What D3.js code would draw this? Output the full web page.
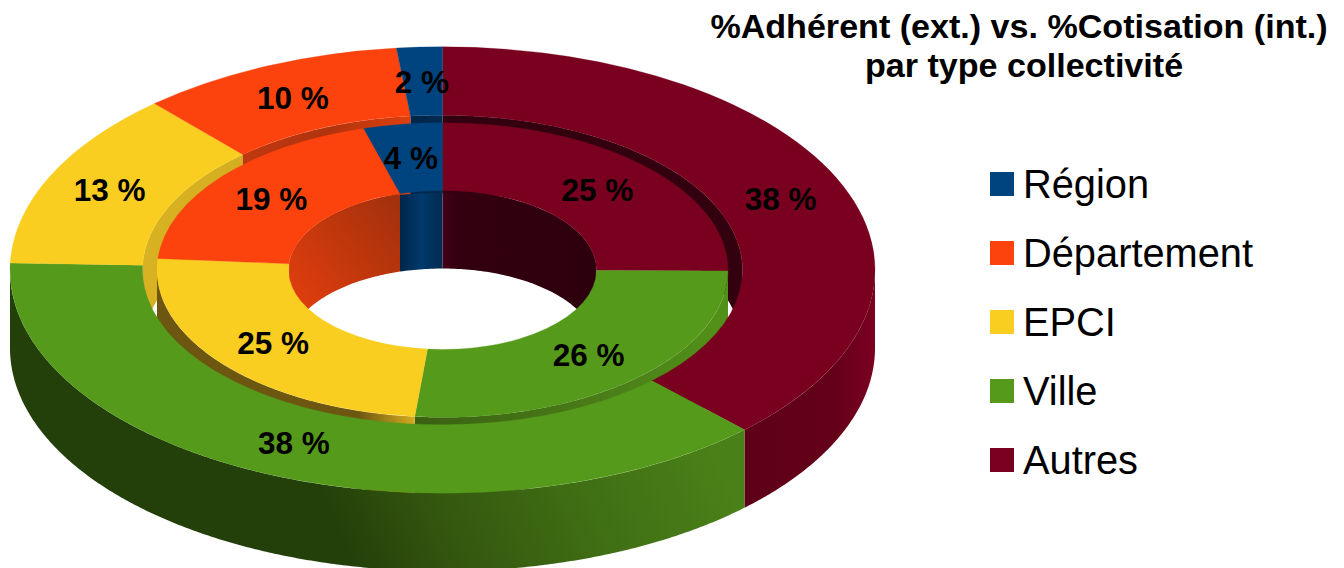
<!DOCTYPE html>
<html><head><meta charset="utf-8">
<script src="https://cdn.jsdelivr.net/npm/d3@7/dist/d3.min.js"></script>
<style>html,body{margin:0;padding:0;background:#fff}svg{display:block}text{font-family:"Liberation Sans",sans-serif}</style>
</head><body><svg id="c" width="1344" height="568"></svg>
<script>
// Data, in drawing order clockwise from 12 o'clock
const categories = ["Autres", "Ville", "EPCI", "Département", "Région"];
const outerValues = [37.7, 37.8, 12.9, 9.9, 1.7];
const innerValues = [25.1, 26.45, 24.7, 19.3, 4.45];
const legendOrder = ["Région", "Département", "EPCI", "Ville", "Autres"];
const titleLines = ["%Adhérent (ext.) vs. %Cotisation (int.)", "par type collectivité"];

// Styles
const colors = {"Région":"#00447f","Département":"#fc430e","EPCI":"#f9ce20","Ville":"#559a1b","Autres":"#7a0020"};
const outerWallStops = {
  "Ville":[[0,"#233f0a"],[.3,"#35590f"],[.65,"#406f14"],[1,"#4a8018"]],
  "Autres":[[0,"#5e0018"],[.7,"#650019"],[1,"#7a0020"]]
};
const gapBackStops = {
  "Autres":[[0,"#33000f"],[1,"#33000f"]],
  "Région":[[0,"#00264a"],[1,"#002b50"]],
  "Département":[[0,"#c0380f"],[.5,"#b0330d"],[1,"#dc400f"]],
  "EPCI":[[0,"#d8b222"],[1,"#d4ae20"]],
  "Ville":[[0,"#3b6010"],[1,"#3b6010"]]
};
const gapFrontStops = {
  "EPCI":[[0,"#6d5610"],[.78,"#6d5610"],[1,"#d4ac20"]],
  "Ville":[[0,"#3a6012"],[.6,"#4a7d18"],[1,"#529219"]],
  "Autres":[[0,"#5e0018"],[1,"#5e0018"]],
  "Département":[[0,"#a0300c"],[1,"#a0300c"]]
};
const holeStops = {
  "Autres":[[0,"#45001a"],[.1,"#33000f"],[1,"#2d000e"]],
  "Région":[[0,"#00264a"],[.5,"#003a6c"],[1,"#002b50"]],
  "Département":[[0,"#ec400d"],[1,"#a0300c"]],
  "EPCI":[[0,"#c9a01f"],[1,"#c9a01f"]]
};

// Geometry
const W = 1344, H = 568, cx = 442.5, cy = 270;
const tilt = 0.516, depth = 78;
const rOuter = 432.5, rOuterIn = 300, rInner = 285.5, rHole = 154;
const svg = d3.select("#c");
const defs = svg.append("defs");
const TAU = Math.PI * 2;

const pie = d3.pie().sort(null).value(d => d.v);
const mk = vals => pie(categories.map((c, i) => ({c, v: vals[i]})));
const outer = mk(outerValues), inner = mk(innerValues);

// angle -> projected position
const px = (r, a) => cx + r * Math.sin(a);
const py = (r, a) => cy - tilt * r * Math.cos(a);

let gid = 0;
function gradient(stops, diag, vec) {
  const id = "g" + (gid++);
  const g = defs.append("linearGradient").attr("id", id);
  if (vec) g.attr("gradientUnits", "userSpaceOnUse")
    .attr("x1", vec[0]).attr("y1", vec[1]).attr("x2", vec[2]).attr("y2", vec[3]);
  else g.attr("x1", 0).attr("x2", 1).attr("y1", diag ? 1 : 0).attr("y2", 0);
  stops.forEach(s => g.append("stop").attr("offset", s[0]).attr("stop-color", s[1]));
  return `url(#${id})`;
}
function wall(r, a0, a1, fill) {
  if (a1 <= a0) return;
  const n = Math.max(2, Math.ceil((a1 - a0) * r / 3));
  const angles = d3.range(n + 1).map(i => a0 + (a1 - a0) * i / n);
  const area = d3.area().x(a => px(r, a)).y0(a => py(r, a)).y1(a => py(r, a) + depth);
  svg.append("path").attr("d", area(angles)).attr("fill", fill);
}
function walls(slices, r, lo, hi, stopsMap, diagFor, vecs) {
  slices.forEach(s => {
    const a0 = Math.max(s.startAngle, lo), a1 = Math.min(s.endAngle, hi);
    if (a1 - a0 > 1e-4) {
      const st = stopsMap[s.data.c];
      if (st) wall(r, a0, a1, gradient(st, diagFor === s.data.c, vecs && vecs[s.data.c]));
    }
  });
}
// back of the central hole
walls(inner, rHole, 0, Math.PI / 2, holeStops);
walls(inner, rHole, Math.PI * 1.5, TAU, holeStops, "Département");
// back wall of the gap (inner side of the outer ring)
walls(outer, rOuterIn, 0, Math.PI / 2, gapBackStops);
walls(outer, rOuterIn, Math.PI * 1.5, TAU, gapBackStops);
// front wall of the inner ring
walls(inner, rInner, Math.PI / 2, Math.PI * 1.5, gapFrontStops);

// top faces
function faces(slices, r0, r1) {
  const arc = d3.arc().innerRadius(r0).outerRadius(r1);
  svg.append("g").attr("transform", `translate(${cx},${cy}) scale(1,${tilt})`)
    .selectAll("path").data(slices).join("path")
    .attr("d", arc).attr("fill", d => colors[d.data.c])
    .attr("stroke", d => colors[d.data.c]).attr("stroke-width", .4);
  return arc;
}
// outer wall of the outer ring
walls(outer, rOuter, Math.PI / 2, Math.PI * 1.5, outerWallStops, null, {"Ville":[350,570,700,420]});
const innerArc = faces(inner, rHole, rInner);
const outerArc = faces(outer, rOuterIn, rOuter);

// value labels at slice centroids
const LABEL = 31.5;
function labels(slices, arc) {
  svg.append("g").selectAll("text").data(slices).join("text")
    .attr("x", d => cx - 1 + arc.centroid(d)[0])
    .attr("y", d => cy + tilt * arc.centroid(d)[1] + LABEL * .36)
    .attr("text-anchor", "middle").attr("font-weight", "bold")
    .attr("font-size", LABEL).attr("fill", "#000")
    .text(d => Math.round(d.data.v) + " %");
}
labels(outer, outerArc);
labels(inner, innerArc);

// title
svg.append("g").selectAll("text").data(titleLines).join("text")
  .attr("x", (d, i) => i ? 1024 : 1019).attr("y", (d, i) => 38 + i * 39)
  .attr("text-anchor", "middle").attr("font-weight", "bold").attr("font-size", 34.1)
  .text(d => d);

// legend
const ly = d3.scalePoint().domain(legendOrder).range([184, 460]);
const lg = svg.append("g").selectAll("g").data(legendOrder).join("g")
  .attr("transform", d => `translate(0,${ly(d)})`);
lg.append("rect").attr("x", 990).attr("y", -12).attr("width", 24).attr("height", 24)
  .attr("fill", d => colors[d]);
lg.append("text").attr("x", 1023).attr("y", 14).attr("font-size", 39.8).text(d => d);
</script></body></html>
